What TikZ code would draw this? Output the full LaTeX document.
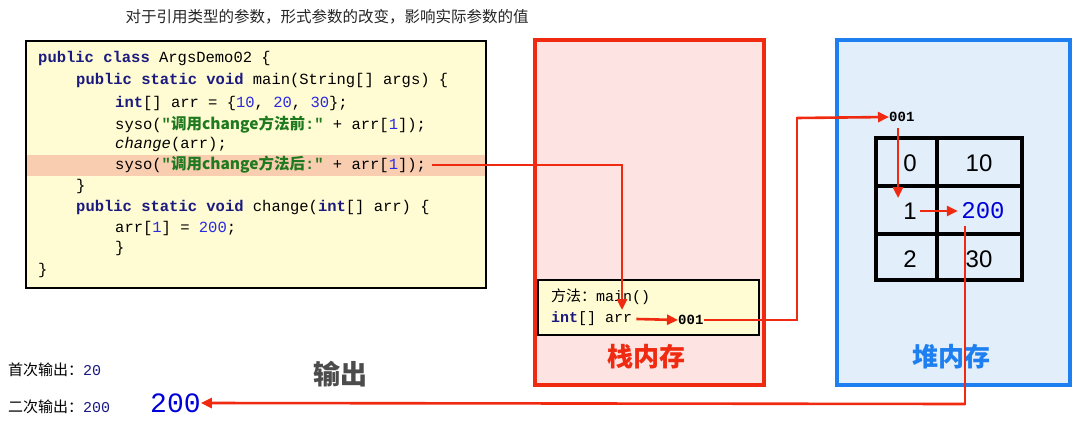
\documentclass[tikz,border=0pt]{standalone}
\usepackage{fontspec}
\setmainfont{Liberation Sans}
\setmonofont{Liberation Mono}
\newfontfamily\cjk{Noto Sans CJK SC}
\usetikzlibrary{arrows.meta}
\definecolor{kw}{HTML}{1A1A80}
\definecolor{num}{HTML}{2A2AE0}
\definecolor{str}{HTML}{1F7A1F}
\definecolor{ared}{HTML}{F02A10}
\definecolor{sblue}{HTML}{1E80F0}
\definecolor{hfill}{HTML}{E3EEFB}
\definecolor{sfill}{HTML}{FDE4E2}
\definecolor{cfill}{HTML}{FFFBD2}
\definecolor{hl}{HTML}{F9CDB0}
\newcommand{\K}[1]{\textbf{\color{kw}#1}}
\newcommand{\N}[1]{{\color{num}#1}}
\newcommand{\Sx}[1]{{\color{str}\bfseries"{\cjk\bfseries #1}:"}}
\tikzset{
  code/.style={anchor=west,inner sep=0pt,font=\fontsize{15.5}{16}\ttfamily},
  arr/.style={draw=ared,line width=2.6pt,-{Triangle[length=11pt,width=10pt]}},
  ln/.style={draw=ared,line width=2.6pt},
  cell/.style={font=\fontsize{24}{26}\selectfont}
}
\begin{document}
\begin{tikzpicture}[x=1pt,y=-1pt]
\useasboundingbox (0,0) rectangle (1078,420);
\fill[white] (0,0) rectangle (1078,420);
\node (title) [font=\fontsize{15.5}{17}\cjk,text=black!85] at (327,17) {对于引用类型的参数，形式参数的改变，影响实际参数的值};
% code box
\node (codebox) [draw=black,line width=2pt,fill=cfill,minimum width=460pt,minimum height=247pt,inner sep=0pt] at (256,164.5) {};
\fill[hl] (27,155) rectangle (485,176);
\node (c1) [code] at (38,58) {\K{public class} ArgsDemo02 \{};
\node (c2) [code] at (76,80) {\K{public static void} main(String[] args) \{};
\node (c3) [code] at (115,103) {\K{int}[] arr = \{\N{10}, \N{20}, \N{30}\};};
\node (c4) [code] at (115,125) {syso(\Sx{调用change方法前} + arr[\N{1}]);};
\node (c5) [code] at (115,144) {\textit{change}(arr);};
\node (c6) [code] at (115,165) {syso(\Sx{调用change方法后} + arr[\N{1}]);};
\node (c7) [code] at (76,186) {\}};
\node (c8) [code] at (76,207) {\K{public static void} change(\K{int}[] arr) \{};
\node (c9) [code] at (115,228) {arr[\N{1}] = \N{200};};
\node (c10) [code] at (115,248) {\}};
\node (c11) [code] at (38,270) {\}};
% stack
\node (stack) [draw=ared,line width=4.5pt,fill=sfill,minimum width=229pt,minimum height=345pt,inner sep=0pt] at (649.5,212.5) {};
\node (frame) [draw=black,line width=1.5pt,fill=cfill,minimum width=221pt,minimum height=55pt,inner sep=0pt] at (648.5,307.5) {};
\node (m1) [code,font=\fontsize{15}{16}\ttfamily] at (551,297) {{\cjk 方法：}main()};
\node (m2) [code,font=\fontsize{15}{16}\ttfamily] at (551,319) {\K{int}[] arr};
\node (a1) [code,font=\fontsize{14}{16}\ttfamily\bfseries] at (678,320) {001};
\node (stl) [font=\fontsize{26}{28}\cjk\bfseries,text=ared] at (646,357) {栈内存};
% heap
\node (heap) [draw=sblue,line width=4.5pt,fill=hfill,minimum width=233pt,minimum height=345pt,inner sep=0pt] at (953.5,212.5) {};
\node (a2) [code,font=\fontsize{14}{16}\ttfamily\bfseries] at (889,117) {001};
\draw[line width=3.5pt] (876,138) rectangle (1022,280);
\draw[line width=3.5pt] (937,138) -- (937,280) (876,186) -- (1022,186) (876,234) -- (1022,234);
\node (i0) [cell] at (910,163) {0};
\node (v0) [cell] at (979,163) {10};
\node (i1) [cell] at (910,211) {1};
\node (v1) [cell,text=blue!85!black,font=\fontsize{24}{26}\ttfamily] at (983,211) {200};
\node (i2) [cell] at (910,259) {2};
\node (v2) [cell] at (979,259) {30};
\node (hpl) [font=\fontsize{26}{28}\cjk\bfseries,text=sblue] at (951,357) {堆内存};
% output
\node (out) [font=\fontsize{27}{29}\cjk\bfseries,text=black!70] at (340,374) {输出};
\node (o1) [anchor=west,inner sep=0pt,font=\fontsize{15}{17}\cjk] at (8,370) {首次输出：{\ttfamily\color{kw}20}};
\node (o2) [anchor=west,inner sep=0pt,font=\fontsize{15}{17}\cjk] at (8,407) {二次输出：{\ttfamily\color{kw}200}};
\node (o3) [anchor=west,inner sep=0pt,font=\fontsize{28}{30}\ttfamily,text=blue!85!black] at (150,403) {200};
% connectors
\coordinate (s6) at (432,165);
\draw[ln] (s6) -- (622,165);
\draw[arr] (622,164) -- (622,310);
\draw[arr] (m2.east) ++(4,0) -- (a1.west);
\draw[ln] (a1.east) -- (797,320) -- (797,117);
\draw[arr] (797,118) -- (a2.west);
\draw[arr] (898,128) -- (898,198);
\draw[arr] (i1.east) -- (v1.west);
\draw[ln] (965,226) -- (965,405);
\draw[arr] (965,404) -- (o3.east);
\end{tikzpicture}
\end{document}
